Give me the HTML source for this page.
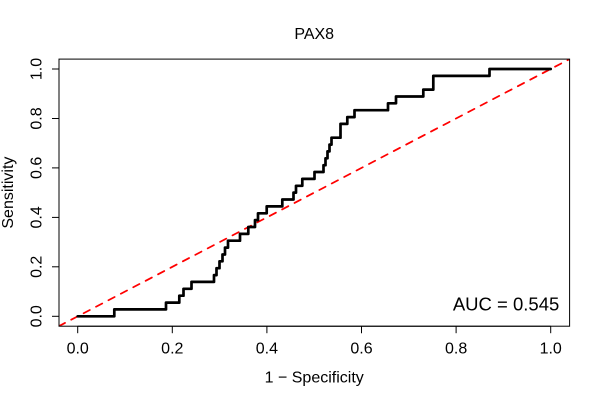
<!DOCTYPE html>
<html>
<head>
<meta charset="utf-8">
<style>
  html, body { margin:0; padding:0; background:#fff; }
  svg { display:block; }
  text { font-family: "Liberation Sans", Arial, sans-serif; fill:#000; }
</style>
</head>
<body>
<svg width="600" height="400" viewBox="0 0 600 400" xmlns="http://www.w3.org/2000/svg">
  <rect x="0" y="0" width="600" height="400" fill="#fff"/>

  <!-- Title -->
  <text x="314.2" y="39" text-anchor="middle" font-size="16">PAX8</text>

  <defs>
    <clipPath id="plotclip">
      <rect x="59" y="59.1" width="510.6" height="267.1"/>
    </clipPath>
  </defs>

  <!-- Diagonal reference line -->
  <g clip-path="url(#plotclip)">
    <line x1="58.8" y1="326.2" x2="569.6" y2="59.1" stroke="#ff0000" stroke-width="1.75" stroke-dasharray="7 7" stroke-linecap="round"/>
  </g>

  <!-- ROC curve -->
  <polyline fill="none" stroke="#000" stroke-width="2.7" stroke-linejoin="round" stroke-linecap="round"
    points="
    77.7,316.3 114.3,316.3 114.3,309.4 166,309.4 166,302.6 179.3,302.6 179.3,295.7
    183.5,295.7 183.5,288.8 191.5,288.8 191.5,281.9 214,281.9 214,275.1 216.5,275.1 216.5,268.2
    219.5,268.2 219.5,261.3 222.5,261.3 222.5,254.5 225,254.5 225,247.6 228,247.6 228,240.7
    240,240.7 240,233.9 248.3,233.9 248.3,227.0 255,227.0 255,220.1 258,220.1 258,213.3
    266.7,213.3 266.7,206.4 282.3,206.4 282.3,199.5 293.5,199.5 293.5,192.6 296,192.6 296,185.8
    302.3,185.8 302.3,178.9 314.5,178.9 314.5,172.0 323.5,172.0 323.5,165.2 325.5,165.2 325.5,158.3
    327.5,158.3 327.5,151.4 329.5,151.4 329.5,144.6 331.5,144.6 331.5,137.7 340.5,137.7 340.5,123.9
    347.3,123.9 347.3,117.1 354.5,117.1 354.5,110.2 388,110.2 388,103.3 396,103.3 396,96.5
    423.3,96.5 423.3,89.6 433.3,89.6 433.3,75.9 489.5,75.9 489.5,69 550.7,69"/>

  <!-- Box -->
  <rect x="59" y="59.1" width="510.6" height="267.1" fill="none" stroke="#000" stroke-width="1"/>

  <!-- X axis -->
  <g stroke="#000" stroke-width="1">
    <line x1="77.7" y1="326.2" x2="550.7" y2="326.2"/>
    <line x1="77.7" y1="326.2" x2="77.7" y2="333.2"/>
    <line x1="172.3" y1="326.2" x2="172.3" y2="333.2"/>
    <line x1="266.9" y1="326.2" x2="266.9" y2="333.2"/>
    <line x1="361.5" y1="326.2" x2="361.5" y2="333.2"/>
    <line x1="456.1" y1="326.2" x2="456.1" y2="333.2"/>
    <line x1="550.7" y1="326.2" x2="550.7" y2="333.2"/>
  </g>
  <g font-size="16" text-anchor="middle">
    <text x="77.7" y="353.5">0.0</text>
    <text x="172.3" y="353.5">0.2</text>
    <text x="266.9" y="353.5">0.4</text>
    <text x="361.5" y="353.5">0.6</text>
    <text x="456.1" y="353.5">0.8</text>
    <text x="550.7" y="353.5">1.0</text>
  </g>

  <!-- Y axis -->
  <g stroke="#000" stroke-width="1">
    <line x1="59" y1="69" x2="59" y2="316.3"/>
    <line x1="52" y1="316.3" x2="59" y2="316.3"/>
    <line x1="52" y1="266.8" x2="59" y2="266.8"/>
    <line x1="52" y1="217.4" x2="59" y2="217.4"/>
    <line x1="52" y1="167.9" x2="59" y2="167.9"/>
    <line x1="52" y1="118.5" x2="59" y2="118.5"/>
    <line x1="52" y1="69" x2="59" y2="69"/>
  </g>
  <g font-size="16" text-anchor="middle">
    <text transform="translate(41.7,316.3) rotate(-90)">0.0</text>
    <text transform="translate(41.7,266.8) rotate(-90)">0.2</text>
    <text transform="translate(41.7,217.4) rotate(-90)">0.4</text>
    <text transform="translate(41.7,167.9) rotate(-90)">0.6</text>
    <text transform="translate(41.7,118.5) rotate(-90)">0.8</text>
    <text transform="translate(41.7,69) rotate(-90)">1.0</text>
  </g>

  <!-- Axis titles -->
  <text x="314.2" y="382.5" text-anchor="middle" font-size="16">1 − Specificity</text>
  <text transform="translate(13,192.6) rotate(-90)" text-anchor="middle" font-size="16">Sensitivity</text>

  <!-- AUC -->
  <text x="559.3" y="310.7" text-anchor="end" font-size="18.5">AUC = 0.545</text>
</svg>
</body>
</html>
